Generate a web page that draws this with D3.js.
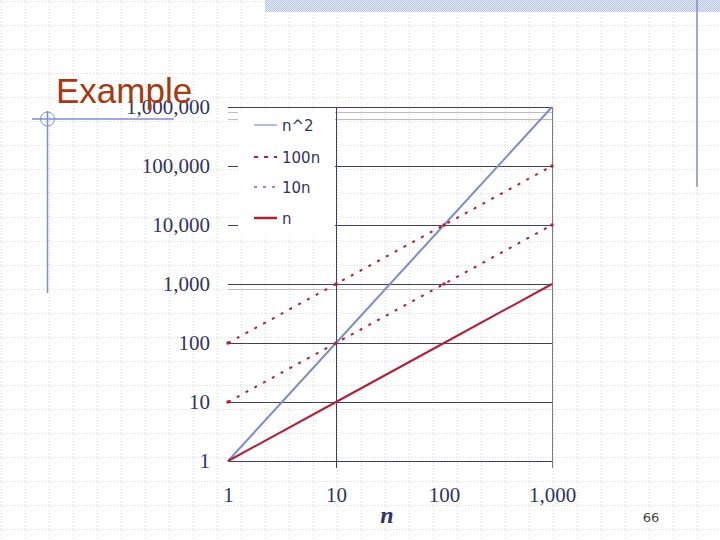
<!DOCTYPE html>
<html>
<head>
<meta charset="utf-8">
<script src="https://cdn.jsdelivr.net/npm/d3@7"></script>
<style>
  body { margin: 0; background: #fff; }
  svg { display: block; }
</style>
</head>
<body>
<div id="chart"></div>
<script>
const width = 720;
const height = 540;

// data
const nValues = [1, 10, 100, 1000];
const nSquared = [1, 100, 10000, 1000000];
const hundredN = [100, 1000, 10000, 100000];
const tenN = [10, 100, 1000, 10000];
const linearN = [1, 10, 100, 1000];
const yTicks = [1, 10, 100, 1000, 10000, 100000, 1000000];
const xTicks = [1, 10, 100, 1000];
const seriesNames = ["n^2", "100n", "10n", "n"];

const svg = d3.select("#chart")
  .append("svg")
  .attr("width", width)
  .attr("height", height);

// slide background: dotted grid
const bg = svg.append("g").attr("shape-rendering", "crispEdges");
bg.selectAll(".vgrid")
  .data(d3.range(1, width, 24))
  .enter()
  .append("line")
  .attr("x1", d => d + 0.5).attr("x2", d => d + 0.5)
  .attr("y1", 0).attr("y2", height)
  .attr("stroke", "#dadada")
  .attr("stroke-dasharray", "1,2");
bg.selectAll(".hgrid")
  .data(d3.range(1, height, 24))
  .enter()
  .append("line")
  .attr("x1", 0).attr("x2", width)
  .attr("y1", d => d + 0.5).attr("y2", d => d + 0.5)
  .attr("stroke", "#dadada")
  .attr("stroke-dasharray", "1,2");

// slide decoration
const defs = svg.append("defs");
const pat = defs.append("pattern")
  .attr("id", "hatch")
  .attr("width", 2).attr("height", 2)
  .attr("patternUnits", "userSpaceOnUse");
pat.append("rect").attr("width", 2).attr("height", 2).attr("fill", "#e4eaf5");
pat.append("rect").attr("width", 1).attr("height", 1).attr("fill", "#b9c6e3");
pat.append("rect").attr("x", 1).attr("y", 1).attr("width", 1).attr("height", 1).attr("fill", "#b9c6e3");
svg.append("rect")
  .attr("x", 265).attr("y", 0).attr("width", width - 265).attr("height", 12)
  .attr("fill", "url(#hatch)");
svg.append("line")
  .attr("x1", 697).attr("x2", 697).attr("y1", 0).attr("y2", 187)
  .attr("stroke", "#7f8fc4").attr("stroke-width", 1.5);
svg.append("line")
  .attr("x1", 32).attr("x2", 174).attr("y1", 119).attr("y2", 119)
  .attr("stroke", "#7f8fc4").attr("stroke-width", 1.5);
svg.append("line")
  .attr("x1", 47.5).attr("x2", 47.5).attr("y1", 111).attr("y2", 293)
  .attr("stroke", "#7f8fc4").attr("stroke-width", 1.5);
svg.append("circle")
  .attr("cx", 47.5).attr("cy", 119).attr("r", 7)
  .attr("fill", "none").attr("stroke", "#7f8fc4").attr("stroke-width", 1);

// scales
const x = d3.scaleLog().domain([1, 1000]).range([228, 552]);
const y = d3.scaleLog().domain([1, 1000000]).range([461, 107]);

const gridColor = "#3d4060";

// horizontal gridlines
const grid = svg.append("g").attr("shape-rendering", "crispEdges");
grid.selectAll("line")
  .data(yTicks)
  .enter()
  .append("line")
  .attr("x1", x(1)).attr("x2", x(1000))
  .attr("y1", d => Math.round(y(d)) + 0.5).attr("y2", d => Math.round(y(d)) + 0.5)
  .attr("stroke", gridColor)
  .attr("stroke-width", 1);

// faint stray lines
[112.5, 119.5, 289.5].forEach(v => {
  grid.append("line")
    .attr("x1", x(1)).attr("x2", x(1000))
    .attr("y1", v).attr("y2", v)
    .attr("stroke", "#bdbdbd").attr("stroke-width", 1);
});

// vertical line at n=10 and right border
grid.append("line")
  .attr("x1", Math.round(x(10)) + 0.5).attr("x2", Math.round(x(10)) + 0.5)
  .attr("y1", y(1000000)).attr("y2", y(1) + 7)
  .attr("stroke", gridColor).attr("stroke-width", 1);
grid.append("line")
  .attr("x1", x(1000) + 0.5).attr("x2", x(1000) + 0.5)
  .attr("y1", y(1000000)).attr("y2", y(1) + 7)
  .attr("stroke", "#7c7c7c").attr("stroke-width", 1);

// axes labels
const yAxis = d3.axisLeft(y)
  .tickValues(yTicks)
  .tickFormat(d3.format(","))
  .tickSize(0)
  .tickPadding(18);
const yg = svg.append("g")
  .attr("transform", `translate(${x(1)},0)`)
  .call(yAxis);
yg.select(".domain").remove();
yg.selectAll("text")
  .attr("font-family", "Liberation Serif, serif")
  .attr("font-size", 21)
  .attr("fill", "#2f3360");

const xAxis = d3.axisBottom(x)
  .tickValues(xTicks)
  .tickFormat(d3.format(","))
  .tickSize(0)
  .tickPadding(26);
const xg = svg.append("g")
  .attr("transform", `translate(0,${y(1)})`)
  .call(xAxis);
xg.select(".domain").remove();
xg.selectAll("text")
  .attr("font-family", "Liberation Serif, serif")
  .attr("font-size", 21)
  .attr("fill", "#2f3360");

svg.append("text")
  .attr("x", 387)
  .attr("y", 523)
  .attr("text-anchor", "middle")
  .attr("font-family", "Liberation Serif, serif")
  .attr("font-style", "italic")
  .attr("font-weight", "bold")
  .attr("font-size", 24)
  .attr("fill", "#2f3360")
  .text("n");

// series
const series = [
  { name: seriesNames[0], values: nSquared, color: "#7d8dc8", width: 2, dash: null, marker: false },
  { name: seriesNames[1], values: hundredN, color: "#b21f35", width: 2, dash: "3,7", marker: true },
  { name: seriesNames[2], values: tenN, color: "#b21f35", width: 2, dash: "3,7", marker: true },
  { name: seriesNames[3], values: linearN, color: "#b21f35", width: 2, dash: null, marker: false }
];

const line = d3.line()
  .x(d => x(d[0]))
  .y(d => y(d[1]));

series.forEach(s => {
  const pts = nValues.map((n, i) => [n, s.values[i]]);
  svg.append("path")
    .datum(pts)
    .attr("d", line)
    .attr("fill", "none")
    .attr("stroke", s.color)
    .attr("stroke-width", s.width)
    .attr("stroke-dasharray", s.dash);
  if (s.marker) {
    svg.append("g")
      .selectAll("rect")
      .data(pts)
      .enter()
      .append("rect")
      .attr("x", d => x(d[0]) - 1.5)
      .attr("y", d => y(d[1]) - 1.5)
      .attr("width", 3).attr("height", 3)
      .attr("fill", s.color);
  }
});

// legend
const legend = svg.append("g");
legend.append("rect")
  .attr("x", 238).attr("y", 110)
  .attr("width", 97).attr("height", 125)
  .attr("fill", "#fff");
const legendY = [125, 157, 187, 218];
series.forEach((s, i) => {
  legend.append("line")
    .attr("x1", 254).attr("x2", 277)
    .attr("y1", legendY[i]).attr("y2", legendY[i])
    .attr("stroke", s.color)
    .attr("stroke-width", i === 3 ? 2.5 : (i === 0 ? 1.2 : 2))
    .attr("stroke-dasharray", s.dash ? (i === 1 ? "4,6" : "3,6") : null)
    .attr("stroke-opacity", i === 2 ? 0.6 : 1);
  legend.append("text")
    .attr("x", 282)
    .attr("y", legendY[i] + 6)
    .attr("font-family", "DejaVu Sans, sans-serif")
    .attr("font-size", 15)
    .attr("fill", "#333355")
    .text(s.name);
});

// title
svg.append("text")
  .attr("x", 56)
  .attr("y", 103)
  .attr("font-family", "Liberation Sans, sans-serif")
  .attr("font-size", 35)
  .attr("fill", "#a53a12")
  .text("Example");

// page number
svg.append("text")
  .attr("x", 651)
  .attr("y", 522)
  .attr("text-anchor", "middle")
  .attr("font-family", "DejaVu Sans, sans-serif")
  .attr("font-size", 13)
  .attr("fill", "#444")
  .text("66");
</script>
</body>
</html>
